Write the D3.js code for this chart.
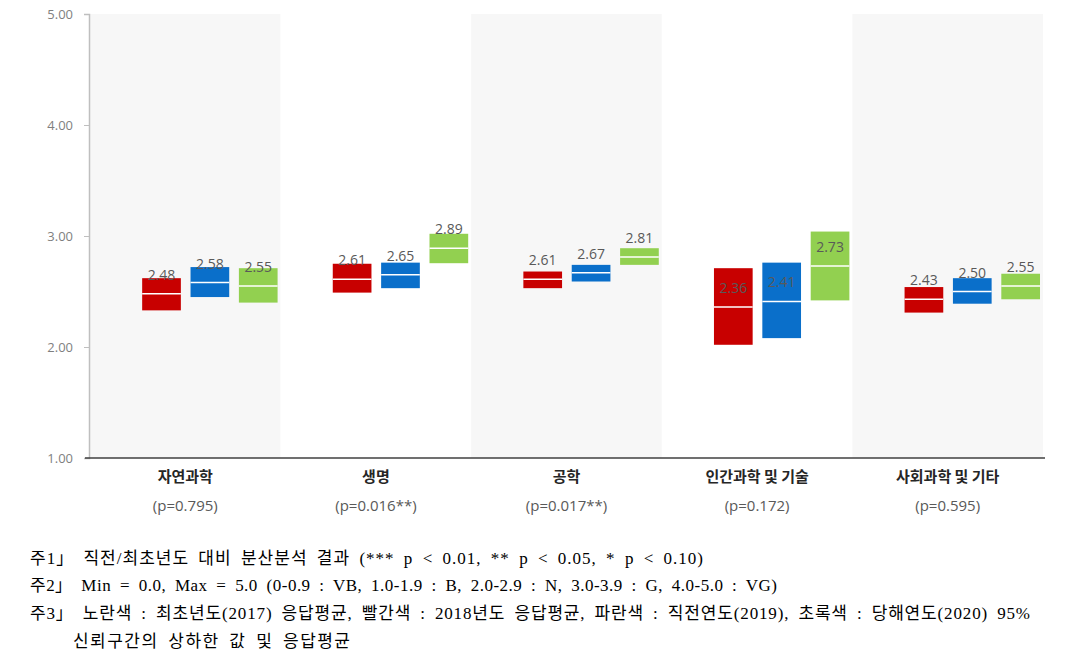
<!DOCTYPE html>
<html>
<head>
<meta charset="utf-8">
<script src="https://cdn.jsdelivr.net/npm/d3@7"></script>
<style>
  body { margin: 0; background: #fff; }
  svg { display: block; }
</style>
</head>
<body>
<svg id="chart" width="1074" height="668"></svg>
<script>
const categories = ["자연과학", "생명", "공학", "인간과학 및 기술", "사회과학 및 기타"];
const pLabels = ["(p=0.795)", "(p=0.016**)", "(p=0.017**)", "(p=0.172)", "(p=0.595)"];
const seriesNames = ["2018", "2019", "2020"];
const seriesColors = ["#c80000", "#0a6fca", "#92d050"];
const mean2018 = [2.48, 2.61, 2.61, 2.36, 2.43];
const low2018  = [2.33, 2.49, 2.53, 2.02, 2.31];
const high2018 = [2.62, 2.75, 2.68, 2.71, 2.54];
const mean2019 = [2.58, 2.65, 2.67, 2.41, 2.50];
const low2019  = [2.45, 2.53, 2.59, 2.08, 2.39];
const high2019 = [2.72, 2.76, 2.74, 2.76, 2.62];
const mean2020 = [2.55, 2.89, 2.81, 2.73, 2.55];
const low2020  = [2.40, 2.755, 2.74, 2.42, 2.43];
const high2020 = [2.71, 3.02, 2.89, 3.04, 2.66];
const yTicks = [1, 2, 3, 4, 5];
const notes = [
  "주1」 직전/최초년도 대비 분산분석 결과 (*** p < 0.01, ** p < 0.05, * p < 0.10)",
  "주2」 Min = 0.0, Max = 5.0 (0-0.9 : VB, 1.0-1.9 : B, 2.0-2.9 : N, 3.0-3.9 : G, 4.0-5.0 : VG)",
  "주3」 노란색 : 최초년도(2017) 응답평균, 빨간색 : 2018년도 응답평균, 파란색 : 직전연도(2019), 초록색 : 당해연도(2020) 95%",
  "신뢰구간의 상하한 값 및 응답평균"
];

const means = [mean2018, mean2019, mean2020];
const lows = [low2018, low2019, low2020];
const highs = [high2018, high2019, high2020];

const svg = d3.select("#chart");
const pLeft = 90, pRight = 1043, pTop = 14, pBottom = 458;

const x = d3.scaleBand().domain(categories).range([pLeft, pRight]).padding(0);
const bw = x.bandwidth();
const x1 = d3.scaleBand().domain(seriesNames)
  .range([bw * 52 / 190, bw * 187 / 190]).paddingInner(0.2);
const y = d3.scaleLinear().domain([1, 5]).range([pBottom, pTop]);

// alternating backgrounds
svg.append("g").selectAll("rect").data(categories).join("rect")
  .attr("x", d => x(d)).attr("y", pTop)
  .attr("width", bw).attr("height", pBottom - pTop)
  .attr("fill", (d, i) => i % 2 === 0 ? "#f7f7f7" : "#ffffff");

// y axis
const yAxis = d3.axisLeft(y).tickValues(yTicks).tickFormat(d3.format(".2f")).tickSize(5).tickPadding(11);
const gy = svg.append("g").attr("transform", `translate(${pLeft - 1},0)`).call(yAxis);
gy.select(".domain").attr("stroke", "#bfbfbf").attr("stroke-width", 1.5);
gy.selectAll(".tick line").attr("stroke", "#bfbfbf");
gy.selectAll(".tick text").attr("fill", "#7f7f7f").style("font-family", "'Open Sans', sans-serif").style("font-size", "13px");

// x axis
const xAxis = d3.axisBottom(x).tickSize(0).tickFormat("");
const gx = svg.append("g").attr("transform", `translate(0,${pBottom})`).call(xAxis);
gx.select(".domain").attr("stroke", "#404040").attr("stroke-width", 1.5)
  .attr("d", `M${pLeft - 5},0H${pRight + 2}`);

// bars
seriesNames.forEach((s, si) => {
  const g = svg.append("g");
  const data = categories.map((c, i) => ({c, lo: lows[si][i], hi: highs[si][i], m: means[si][i]}));
  g.selectAll("rect").data(data).join("rect")
    .attr("x", d => x(d.c) + x1(s)).attr("y", d => y(d.hi))
    .attr("width", x1.bandwidth()).attr("height", d => y(d.lo) - y(d.hi))
    .attr("fill", seriesColors[si]);
  g.selectAll("line").data(data).join("line")
    .attr("x1", d => x(d.c) + x1(s)).attr("x2", d => x(d.c) + x1(s) + x1.bandwidth())
    .attr("y1", d => y(d.m)).attr("y2", d => y(d.m))
    .attr("stroke", "#ffffff").attr("stroke-width", 1.5);
  g.selectAll("text").data(data).join("text")
    .attr("x", d => x(d.c) + x1(s) + x1.bandwidth() / 2)
    .attr("y", d => y(d.m) - 14)
    .attr("text-anchor", "middle")
    .attr("fill", "#595959")
    .style("font-family", "'Open Sans', sans-serif").style("font-size", "14px")
    .text(d => d.m.toFixed(2));
});

// category labels
svg.append("g").selectAll("text").data(categories).join("text")
  .attr("x", d => x(d) + bw / 2).attr("y", 482)
  .attr("text-anchor", "middle").attr("fill", "#262626")
  .style("font-family", "'Noto Sans CJK KR', sans-serif").style("font-size", "15px").style("font-weight", "bold")
  .text(d => d);
svg.append("g").selectAll("text").data(pLabels).join("text")
  .attr("x", (d, i) => x(categories[i]) + bw / 2).attr("y", 511)
  .attr("text-anchor", "middle").attr("fill", "#595959")
  .style("font-family", "'Open Sans', sans-serif").style("font-size", "15px")
  .text(d => d);

// notes
const noteY = [564, 591, 619, 647];
const noteX = [30, 30, 30, 73];
const noteW = [673, 747, 1000, 277];
svg.append("g").selectAll("text").data(notes).join("text")
  .attr("x", (d, i) => noteX[i]).attr("y", (d, i) => noteY[i])
  .attr("fill", "#000")
  .style("font-family", "'Liberation Serif', 'Noto Sans CJK KR', serif").style("font-size", "17px")
  .style("word-spacing", "4px")
  .attr("textLength", (d, i) => noteW[i])
  .attr("lengthAdjust", "spacing")
  .text(d => d);
</script>
</body>
</html>
